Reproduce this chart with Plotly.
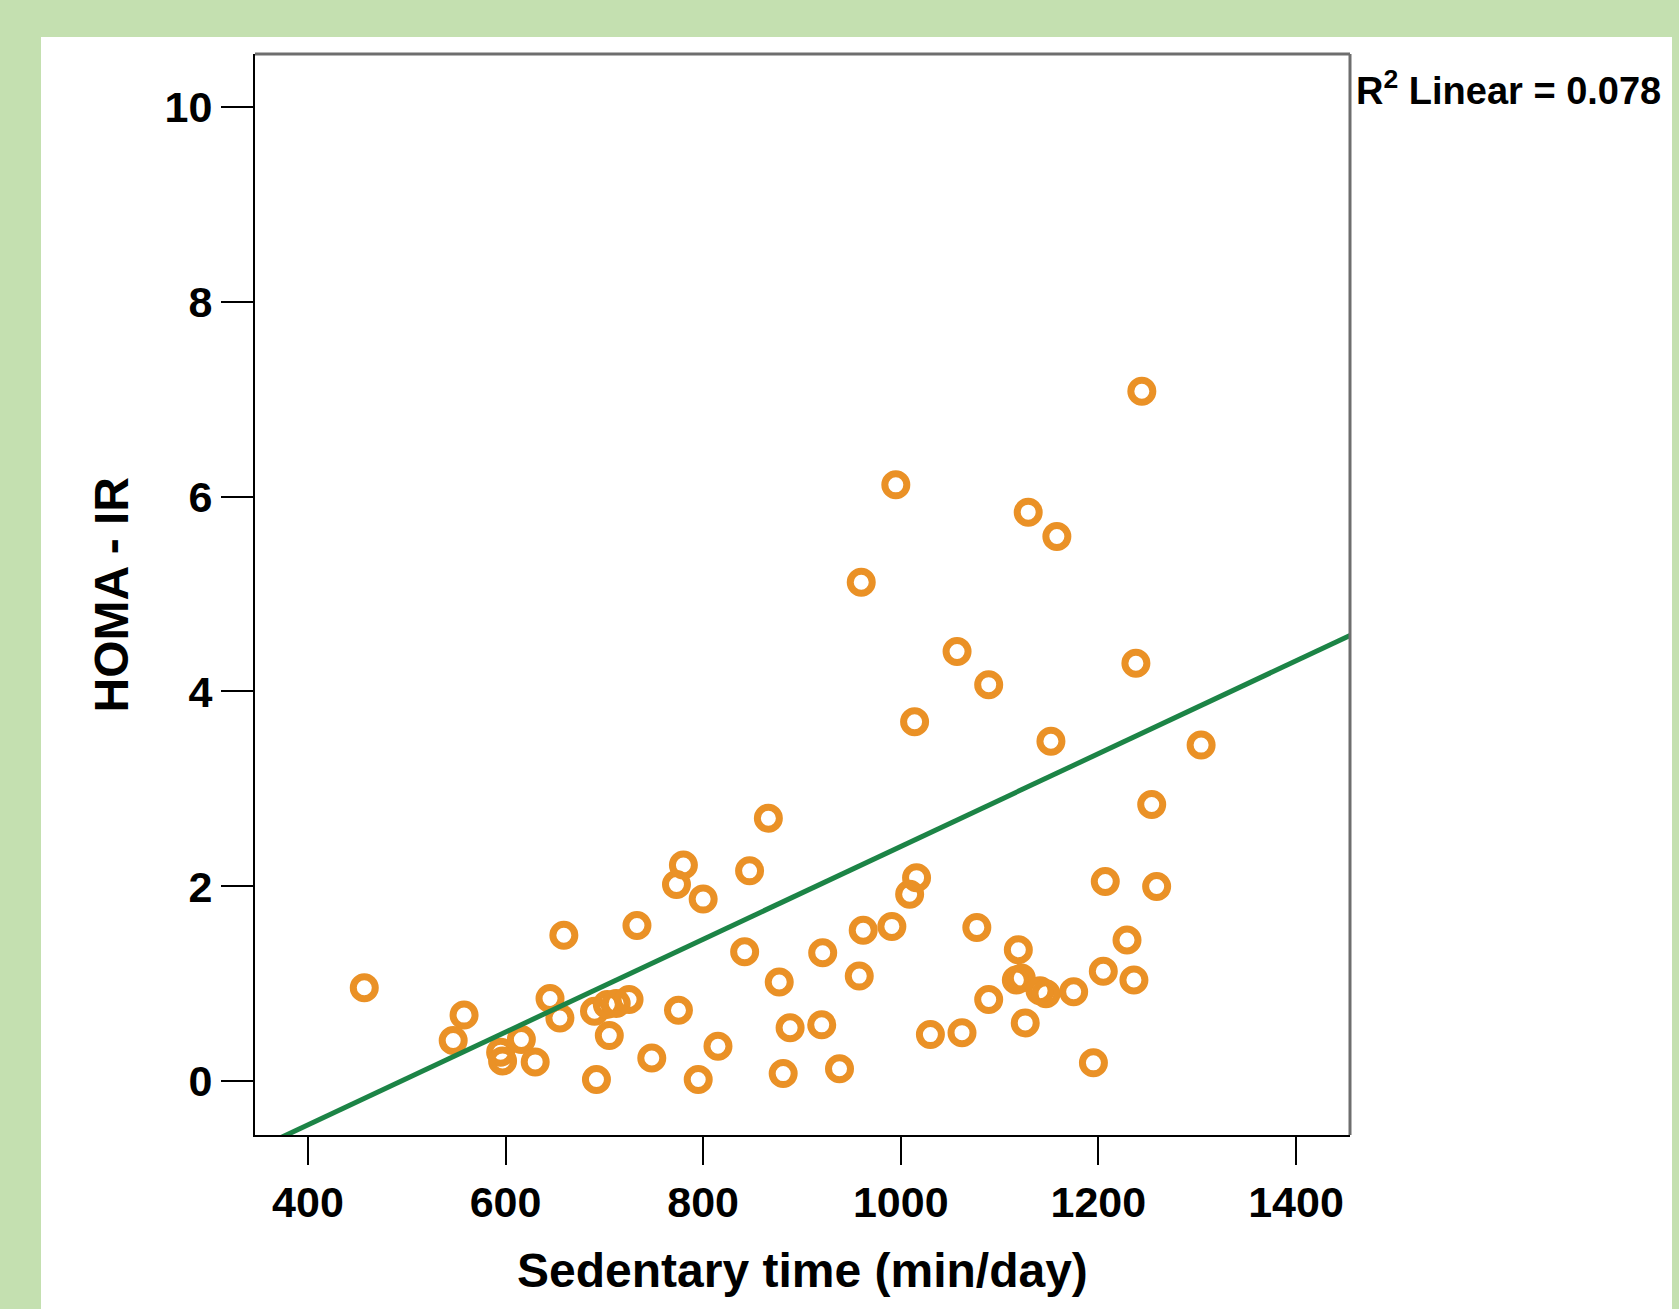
import plotly.graph_objects as go

# ---- data ----
sedentary_min = [457, 558, 547, 595, 597, 616, 630, 645, 655, 659,
                 692, 690, 703, 712, 725, 705, 733, 748, 773, 780,
                 775, 795, 800, 815, 842, 847, 866, 877, 881, 888,
                 921, 920, 938, 958, 962, 960, 991, 995, 1009, 1016,
                 1014, 1030, 1057, 1062, 1077, 1089, 1089, 1119, 1117, 1122,
                 1141, 1147, 1126, 1129, 1152, 1158, 1175, 1195, 1205, 1207,
                 1229, 1236, 1238, 1244, 1254, 1259, 1304]
homa_ir = [0.96, 0.68, 0.42, 0.30, 0.21, 0.43, 0.20, 0.85, 0.65, 1.50,
           0.02, 0.72, 0.79, 0.80, 0.84, 0.47, 1.60, 0.24, 2.02, 2.22,
           0.73, 0.02, 1.87, 0.36, 1.33, 2.16, 2.70, 1.02, 0.08, 0.55,
           1.32, 0.58, 0.13, 1.08, 1.55, 5.12, 1.59, 6.12, 1.92, 2.09,
           3.69, 0.48, 4.41, 0.50, 1.58, 0.84, 4.07, 1.35, 1.04, 1.06,
           0.93, 0.90, 0.60, 5.84, 3.49, 5.59, 0.92, 0.19, 1.13, 2.05,
           1.45, 1.04, 4.29, 7.08, 2.84, 2.00, 3.45]
fit_slope = 0.00476
fit_intercept = -2.35
r2_text = "R<sup>2</sup> Linear = 0.078"
x_ticks = [400, 600, 800, 1000, 1200, 1400]
y_ticks = [0, 2, 4, 6, 8, 10]
x_title = "Sedentary time (min/day)"
y_title = "HOMA - IR"

x_range = [346.4, 1454.7]
y_range = [-0.55, 10.54]

# ---- layout geometry (pixels) ----
W, H = 1679, 1309
ml, mr, mt, mb = 255, 329, 54, 174
pw, ph = W - ml - mr, H - mt - mb

def px_to_paper_x(px):
    return (px - ml) / pw

def px_to_paper_y(py):
    return (H - mb - py) / ph

FONT = "Liberation Sans, Arial, sans-serif"
ORANGE = "rgb(234,145,38)"
GREEN_LINE = "rgb(28,132,70)"

fig = go.Figure()
fig.add_trace(go.Scatter(
    x=sedentary_min, y=homa_ir, mode="markers",
    marker=dict(symbol="circle-open", size=22, color=ORANGE,
                line=dict(width=7, color=ORANGE)),
    showlegend=False, hoverinfo="x+y"))

fit_x = list(x_range)
fit_y = [fit_intercept + fit_slope * v for v in fit_x]
fig.add_trace(go.Scatter(
    x=fit_x, y=fit_y, mode="lines",
    line=dict(color=GREEN_LINE, width=5),
    showlegend=False, hoverinfo="skip"))

shapes = [
    # white panel over green background
    dict(type="rect", xref="paper", yref="paper", layer="below",
         x0=px_to_paper_x(41), x1=px_to_paper_x(1672),
         y0=px_to_paper_y(H + 20), y1=px_to_paper_y(37),
         fillcolor="white", line=dict(width=0)),
    # top and right gray frame
    dict(type="line", xref="paper", yref="paper", x0=0, x1=1, y0=1, y1=1,
         line=dict(color="rgb(110,110,110)", width=3)),
    dict(type="line", xref="paper", yref="paper", x0=1, x1=1, y0=0, y1=1,
         line=dict(color="rgb(110,110,110)", width=3)),
]

annotations = [
    dict(text=f"<b>{x_title}</b>", xref="paper", yref="paper",
         x=0.5, y=px_to_paper_y(1270), xanchor="center", yanchor="middle",
         showarrow=False, font=dict(family=FONT, size=48, color="black")),
    dict(text=f"<b>{y_title}</b>", xref="paper", yref="paper",
         x=px_to_paper_x(111), y=0.5, xanchor="center", yanchor="middle",
         textangle=-90, showarrow=False,
         font=dict(family=FONT, size=48, color="black")),
    dict(text=f"<b>{r2_text}</b>", xref="paper", yref="paper",
         x=px_to_paper_x(1354), y=px_to_paper_y(88), xanchor="left",
         yanchor="middle", showarrow=False,
         font=dict(family=FONT, size=38, color="black")),
]

fig.update_layout(
    width=W, height=H,
    margin=dict(l=ml, r=mr, t=mt, b=mb, pad=0),
    paper_bgcolor="rgb(196,224,176)",
    plot_bgcolor="rgb(240,240,240)",
    shapes=shapes, annotations=annotations,
    xaxis=dict(range=x_range, tickvals=x_ticks, showgrid=False, zeroline=False,
               showline=True, linecolor="black", linewidth=2,
               ticks="outside", ticklen=28, tickwidth=2, tickcolor="black",
               tickfont=dict(family=FONT, size=43, color="black", weight="bold")),
    yaxis=dict(range=y_range, tickvals=y_ticks, showgrid=False, zeroline=False,
               showline=True, linecolor="black", linewidth=2,
               ticks="outside", ticklen=32, tickwidth=2, tickcolor="black",
               tickfont=dict(family=FONT, size=43, color="black", weight="bold")),
)

fig.write_html("out.html",
               config={"displayModeBar": False},
               post_script="document.body.style.margin='0';"
                           "document.body.style.overflow='hidden';")
